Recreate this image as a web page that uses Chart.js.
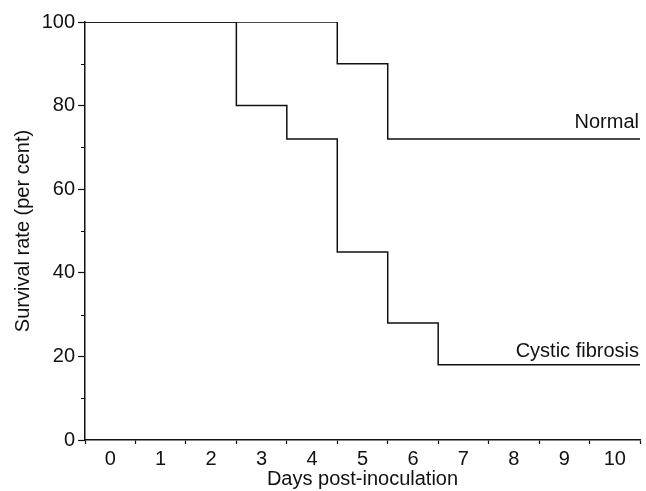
<!DOCTYPE html>
<html>
<head>
<meta charset="utf-8">
<script src="https://cdn.jsdelivr.net/npm/chart.js@4.4.0/dist/chart.umd.min.js"></script>
<style>
  html, body { margin: 0; padding: 0; background: #fff; }
  #wrap { width: 646px; height: 491px; }
</style>
</head>
<body>
<div id="wrap"><canvas id="c" width="646" height="491"></canvas></div>
<script>
// ---- data ----
const X_TITLE = 'Days post-inoculation';
const Y_TITLE = 'Survival rate (per cent)';
const DAY_LABELS = [0, 1, 2, 3, 4, 5, 6, 7, 8, 9, 10];
const Y_MAJOR_TICKS = [0, 20, 40, 60, 80, 100];
const Y_MINOR_TICKS = [10, 30, 50, 70, 90];

const SERIES_NAMES = ['Normal', 'Cystic fibrosis'];
// step points: value holds from x until the next x
const NORMAL_X = [-0.5, 4.5, 5.5, 10.5];
const NORMAL_Y = [100, 90, 72, 72];
const CF_X = [-0.5, 2.5, 3.5, 4.5, 5.5, 6.5, 10.5];
const CF_Y = [100, 80, 72, 45, 28, 18, 18];

const FONT = 'Liberation Sans, Arial, Helvetica, sans-serif';
const INK = '#111';

function pts(xs, ys) { return xs.map((x, i) => ({ x: x, y: ys[i] })); }

const xTickValues = [];
for (let i = 0; i <= DAY_LABELS.length * 2; i++) xTickValues.push(DAY_LABELS[0] - 0.5 + i * 0.5);

const seriesLabels = {
  id: 'seriesLabels',
  afterDatasetsDraw(chart) {
    const ctx = chart.ctx;
    const xs = chart.scales.x, ys = chart.scales.y;
    const offsets = [11, 8];
    ctx.save();
    ctx.fillStyle = INK;
    ctx.font = '20px ' + FONT;
    ctx.textAlign = 'right';
    ctx.textBaseline = 'alphabetic';
    chart.data.datasets.forEach((ds, i) => {
      const last = ds.data[ds.data.length - 1];
      ctx.fillText(SERIES_NAMES[i], xs.getPixelForValue(last.x) - 1, ys.getPixelForValue(last.y) - offsets[i]);
    });
    // minor y ticks
    ctx.strokeStyle = INK;
    ctx.lineWidth = 1.2;
    ctx.beginPath();
    Y_MINOR_TICKS.forEach(v => {
      const py = Math.round(ys.getPixelForValue(v)) + 0.5;
      ctx.moveTo(chart.chartArea.left - 4, py);
      ctx.lineTo(chart.chartArea.left, py);
    });
    ctx.stroke();
    ctx.restore();
  }
};

new Chart(document.getElementById('c'), {
  type: 'line',
  data: {
    datasets: [
      { label: SERIES_NAMES[0], data: pts(NORMAL_X, NORMAL_Y), stepped: 'before',
        borderColor: INK, borderWidth: 1.5, pointRadius: 0, fill: false },
      { label: SERIES_NAMES[1], data: pts(CF_X, CF_Y), stepped: 'before',
        borderColor: INK, borderWidth: 1.5, pointRadius: 0, fill: false }
    ]
  },
  options: {
    responsive: false,
    animation: false,
    events: [],
    layout: { padding: { left: 6, right: 6, top: 22, bottom: 0 } },
    plugins: { legend: { display: false }, tooltip: { enabled: false } },
    scales: {
      x: {
        type: 'linear',
        min: -0.5, max: 10.5,
        afterBuildTicks: (s) => { s.ticks = xTickValues.map(v => ({ value: v })); },
        afterFit: (s) => { s.height = 51; },
        border: { display: true, color: INK, width: 1.5 },
        grid: {
          drawOnChartArea: false, drawTicks: true, tickLength: 4, tickWidth: 1.2,
          tickColor: (c) => (c.tick && Number.isInteger(c.tick.value)) ? 'rgba(0,0,0,0)' : INK
        },
        ticks: {
          autoSkip: false, maxRotation: 0, padding: 3, color: INK,
          font: { family: FONT, size: 20 },
          callback: (v) => Number.isInteger(v) && DAY_LABELS.includes(v) ? String(v) : ''
        },
        title: { display: true, text: X_TITLE, color: INK, font: { family: FONT, size: 20 }, padding: { top: 0, bottom: 0 } }
      },
      y: {
        type: 'linear',
        min: 0, max: 100,
        afterBuildTicks: (s) => { s.ticks = Y_MAJOR_TICKS.map(v => ({ value: v })); },
        afterFit: (s) => { s.width = 79; },
        border: { display: true, color: INK, width: 1.5 },
        grid: { drawOnChartArea: false, drawTicks: true, tickLength: 7, tickWidth: 1.2, tickColor: INK },
        ticks: { padding: 3, color: INK, font: { family: FONT, size: 20 } },
        title: { display: true, text: Y_TITLE, color: INK, font: { family: FONT, size: 20 }, padding: { top: 5, bottom: 0 } }
      }
    }
  },
  plugins: [seriesLabels]
});
</script>
</body>
</html>
